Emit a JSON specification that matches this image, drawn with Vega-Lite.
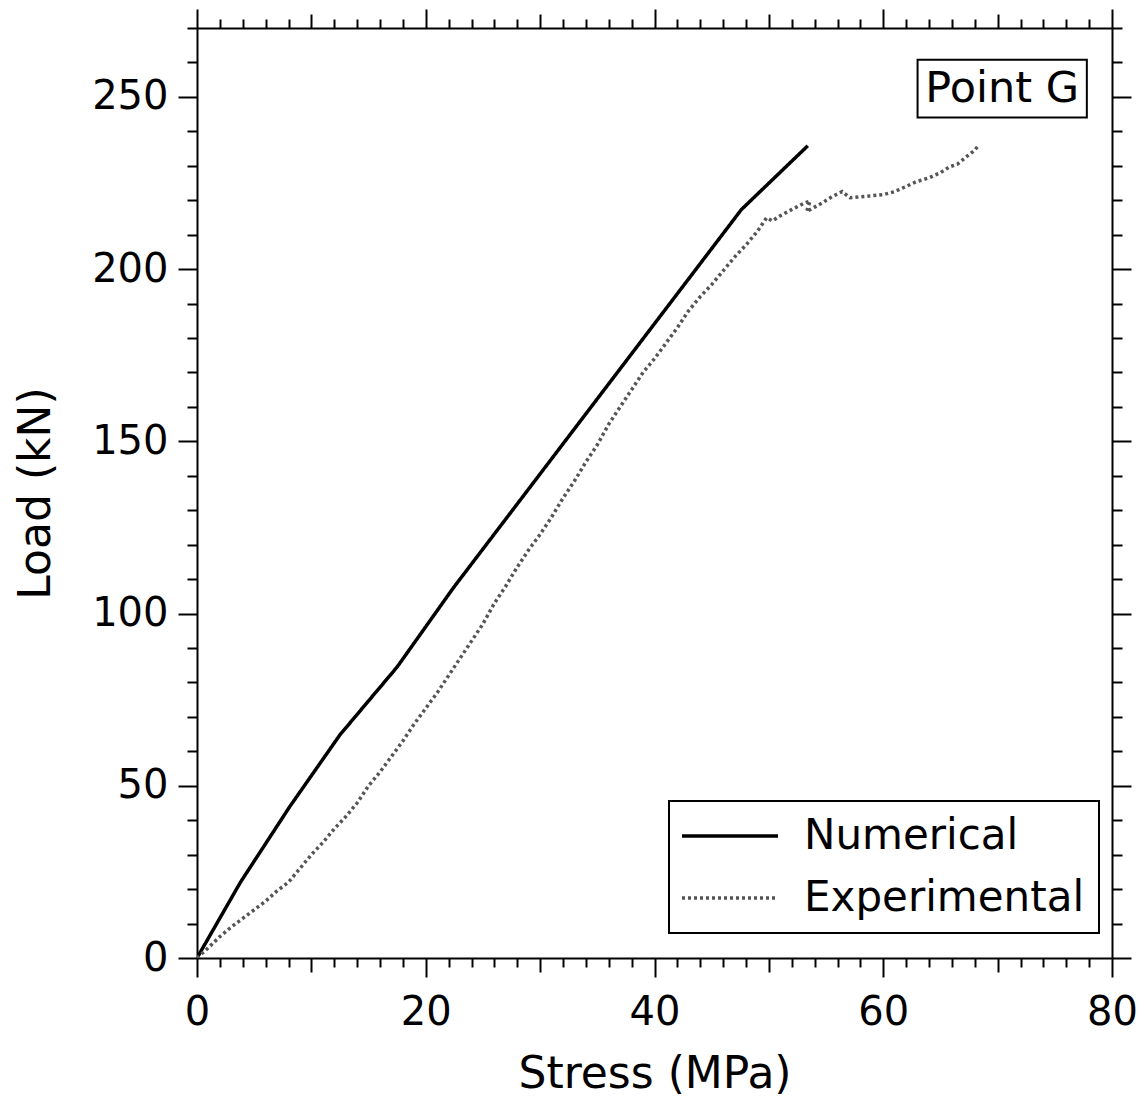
{
  "$schema": "https://vega.github.io/schema/vega-lite/v6.json",
  "width": 915,
  "height": 930,
  "autosize": {"type": "none"},
  "padding": {"left": 197, "top": 28, "right": 35, "bottom": 147},
  "background": "white",
  "config": {
    "view": {"stroke": null},
    "font": "DejaVu Sans",
    "axis": {
      "domainColor": "black",
      "domainWidth": 2,
      "tickColor": "black",
      "tickWidth": 2,
      "grid": false,
      "labelFont": "DejaVu Sans",
      "labelColor": "black",
      "titleFont": "DejaVu Sans",
      "titleColor": "black",
      "titleFontWeight": "normal"
    },
    "legend": {"strokeWidth": 2}
  },
  "datasets": {
    "curves": [
      {"series": "Numerical", "i": 0, "stress": 0, "load": 0},
      {"series": "Numerical", "i": 1, "stress": 3.8, "load": 22},
      {"series": "Numerical", "i": 2, "stress": 8.1, "load": 43.9},
      {"series": "Numerical", "i": 3, "stress": 12.5, "load": 64.8},
      {"series": "Numerical", "i": 4, "stress": 17.5, "load": 84.5},
      {"series": "Numerical", "i": 5, "stress": 22.4, "load": 107.4},
      {"series": "Numerical", "i": 6, "stress": 47.6, "load": 217.3},
      {"series": "Numerical", "i": 7, "stress": 53.4, "load": 235.8},
      {"series": "Experimental", "i": 0, "stress": 0, "load": 0},
      {"series": "Experimental", "i": 1, "stress": 1, "load": 3},
      {"series": "Experimental", "i": 2, "stress": 2, "load": 6.2},
      {"series": "Experimental", "i": 3, "stress": 3, "load": 9},
      {"series": "Experimental", "i": 4, "stress": 4, "load": 11.5},
      {"series": "Experimental", "i": 5, "stress": 5, "load": 14},
      {"series": "Experimental", "i": 6, "stress": 6, "load": 16.5},
      {"series": "Experimental", "i": 7, "stress": 7, "load": 19.5},
      {"series": "Experimental", "i": 8, "stress": 8, "load": 22},
      {"series": "Experimental", "i": 9, "stress": 9, "load": 26},
      {"series": "Experimental", "i": 10, "stress": 10, "load": 30},
      {"series": "Experimental", "i": 11, "stress": 11, "load": 33.5},
      {"series": "Experimental", "i": 12, "stress": 12, "load": 37.5},
      {"series": "Experimental", "i": 13, "stress": 13, "load": 41},
      {"series": "Experimental", "i": 14, "stress": 14, "load": 45},
      {"series": "Experimental", "i": 15, "stress": 15, "load": 50},
      {"series": "Experimental", "i": 16, "stress": 16, "load": 54},
      {"series": "Experimental", "i": 17, "stress": 17, "load": 58.5},
      {"series": "Experimental", "i": 18, "stress": 18, "load": 63},
      {"series": "Experimental", "i": 19, "stress": 19, "load": 68},
      {"series": "Experimental", "i": 20, "stress": 20, "load": 72.5},
      {"series": "Experimental", "i": 21, "stress": 21, "load": 77},
      {"series": "Experimental", "i": 22, "stress": 22, "load": 82},
      {"series": "Experimental", "i": 23, "stress": 23, "load": 87},
      {"series": "Experimental", "i": 24, "stress": 24, "load": 92},
      {"series": "Experimental", "i": 25, "stress": 25, "load": 97},
      {"series": "Experimental", "i": 26, "stress": 26, "load": 103},
      {"series": "Experimental", "i": 27, "stress": 27, "load": 108},
      {"series": "Experimental", "i": 28, "stress": 28, "load": 113.5},
      {"series": "Experimental", "i": 29, "stress": 29, "load": 118.5},
      {"series": "Experimental", "i": 30, "stress": 30, "load": 123},
      {"series": "Experimental", "i": 31, "stress": 31, "load": 128},
      {"series": "Experimental", "i": 32, "stress": 32, "load": 133.5},
      {"series": "Experimental", "i": 33, "stress": 33, "load": 138.5},
      {"series": "Experimental", "i": 34, "stress": 34, "load": 144},
      {"series": "Experimental", "i": 35, "stress": 35, "load": 149},
      {"series": "Experimental", "i": 36, "stress": 36, "load": 155},
      {"series": "Experimental", "i": 37, "stress": 37, "load": 160},
      {"series": "Experimental", "i": 38, "stress": 38, "load": 165},
      {"series": "Experimental", "i": 39, "stress": 39, "load": 170},
      {"series": "Experimental", "i": 40, "stress": 40, "load": 174},
      {"series": "Experimental", "i": 41, "stress": 41, "load": 178.5},
      {"series": "Experimental", "i": 42, "stress": 42, "load": 183},
      {"series": "Experimental", "i": 43, "stress": 43, "load": 188},
      {"series": "Experimental", "i": 44, "stress": 44, "load": 192},
      {"series": "Experimental", "i": 45, "stress": 45, "load": 195.5},
      {"series": "Experimental", "i": 46, "stress": 46, "load": 199.5},
      {"series": "Experimental", "i": 47, "stress": 47, "load": 203.5},
      {"series": "Experimental", "i": 48, "stress": 48, "load": 207},
      {"series": "Experimental", "i": 49, "stress": 49, "load": 211},
      {"series": "Experimental", "i": 50, "stress": 49.8, "load": 214.9},
      {"series": "Experimental", "i": 51, "stress": 50.3, "load": 214},
      {"series": "Experimental", "i": 52, "stress": 51, "load": 215.5},
      {"series": "Experimental", "i": 53, "stress": 52, "load": 217.3},
      {"series": "Experimental", "i": 54, "stress": 53, "load": 219},
      {"series": "Experimental", "i": 55, "stress": 53.6, "load": 219.8},
      {"series": "Experimental", "i": 56, "stress": 53.3, "load": 216.7},
      {"series": "Experimental", "i": 57, "stress": 54, "load": 218},
      {"series": "Experimental", "i": 58, "stress": 54.7, "load": 219.3},
      {"series": "Experimental", "i": 59, "stress": 55.5, "load": 221},
      {"series": "Experimental", "i": 60, "stress": 56.4, "load": 222.5},
      {"series": "Experimental", "i": 61, "stress": 57.1, "load": 220.7},
      {"series": "Experimental", "i": 62, "stress": 58, "load": 221},
      {"series": "Experimental", "i": 63, "stress": 59, "load": 221.3},
      {"series": "Experimental", "i": 64, "stress": 60, "load": 221.6},
      {"series": "Experimental", "i": 65, "stress": 61, "load": 222.5},
      {"series": "Experimental", "i": 66, "stress": 62, "load": 224},
      {"series": "Experimental", "i": 67, "stress": 62.9, "load": 225.4},
      {"series": "Experimental", "i": 68, "stress": 64, "load": 226.5},
      {"series": "Experimental", "i": 69, "stress": 65, "load": 228},
      {"series": "Experimental", "i": 70, "stress": 65.8, "load": 229.7},
      {"series": "Experimental", "i": 71, "stress": 66.5, "load": 230.5},
      {"series": "Experimental", "i": 72, "stress": 67.3, "load": 232.7},
      {"series": "Experimental", "i": 73, "stress": 68, "load": 234.5},
      {"series": "Experimental", "i": 74, "stress": 68.3, "load": 235.8}
    ],
    "label": [
      {"x1": 63.0, "x2": 77.8, "y1": 244.0, "y2": 260.8, "xc": 70.4, "yc": 252.4, "text": "Point G"}
    ]
  },
  "layer": [
    {
      "data": {"name": "curves"},
      "mark": {"type": "line", "clip": true},
      "encoding": {
        "x": {
          "field": "stress", "type": "quantitative",
          "scale": {"domain": [0, 80], "nice": false, "zero": false},
          "axis": {
            "orient": "bottom",
            "title": "Stress (MPa)",
            "titleFontSize": 44,
            "titlePadding": 20,
            "values": [0,2,4,6,8,10,12,14,16,18,20,22,24,26,28,30,32,34,36,38,40,42,44,46,48,50,52,54,56,58,60,62,64,66,68,70,72,74,76,78,80],
            "labelExpr": "datum.value % 20 === 0 ? datum.label : ''",
            "labelFontSize": 40,
            "labelPadding": 15,
            "labelFlush": false,
            "labelOverlap": false,
            "tickSize": {"condition": [{"test": "datum.value % 20 === 0", "value": 19}, {"test": "datum.value % 10 === 0", "value": 14}], "value": 9}
          }
        },
        "y": {
          "field": "load", "type": "quantitative",
          "scale": {"domain": [0, 270], "nice": false, "zero": false},
          "axis": {
            "orient": "left",
            "title": "Load (kN)",
            "titleFontSize": 44,
            "titlePadding": 33,
            "values": [0,10,20,30,40,50,60,70,80,90,100,110,120,130,140,150,160,170,180,190,200,210,220,230,240,250,260,270],
            "labelExpr": "datum.value % 50 === 0 ? datum.label : ''",
            "labelFontSize": 40,
            "labelPadding": 10,
            "labelFlush": false,
            "labelOverlap": false,
            "tickSize": {"condition": {"test": "datum.value % 50 === 0", "value": 19}, "value": 10}
          }
        },
        "order": {"field": "i", "type": "quantitative"},
        "color": {
          "field": "series", "type": "nominal",
          "scale": {"domain": ["Numerical", "Experimental"], "range": ["black", "#555555"]},
          "legend": {
            "title": null,
            "orient": "none",
            "legendX": 472,
            "legendY": 773,
            "padding": 14,
            "strokeColor": "black",
            "fillColor": "white",
            "symbolType": "M-1.375,0H4.625",
            "symbolSize": 1024,
            "symbolStrokeWidth": 3.5,
            "labelFont": "DejaVu Sans",
            "labelFontSize": 42,
            "labelColor": "black",
            "labelLimit": 500,
            "labelOffset": 79,
            "rowPadding": 20
          }
        },
        "strokeDash": {
          "field": "series", "type": "nominal",
          "scale": {"domain": ["Numerical", "Experimental"], "range": [[1, 0], [3, 3]]},
          "legend": {
            "title": null,
            "orient": "none",
            "legendX": 472,
            "legendY": 773,
            "padding": 14,
            "strokeColor": "black",
            "fillColor": "white",
            "symbolType": "M-1.375,0H4.625",
            "symbolSize": 1024,
            "symbolStrokeWidth": 3.5,
            "labelFont": "DejaVu Sans",
            "labelFontSize": 42,
            "labelColor": "black",
            "labelLimit": 500,
            "labelOffset": 79,
            "rowPadding": 20
          }
        },
        "strokeWidth": {"value": 3.5}
      }
    },
    {
      "data": {"name": "label"},
      "mark": {"type": "rect", "fill": "white", "stroke": "black", "strokeWidth": 2},
      "encoding": {
        "x": {
          "field": "x1", "type": "quantitative",
          "axis": {
            "orient": "top",
            "title": null,
            "values": [0,2,4,6,8,10,12,14,16,18,20,22,24,26,28,30,32,34,36,38,40,42,44,46,48,50,52,54,56,58,60,62,64,66,68,70,72,74,76,78,80],
            "labels": false,
            "tickSize": {"condition": [{"test": "datum.value % 20 === 0", "value": 19}, {"test": "datum.value % 10 === 0", "value": 14}], "value": 9}
          }
        },
        "x2": {"field": "x2"},
        "y": {
          "field": "y1", "type": "quantitative",
          "axis": {
            "orient": "right",
            "title": null,
            "values": [0,10,20,30,40,50,60,70,80,90,100,110,120,130,140,150,160,170,180,190,200,210,220,230,240,250,260,270],
            "labels": false,
            "tickSize": {"condition": {"test": "datum.value % 50 === 0", "value": 19}, "value": 10}
          }
        },
        "y2": {"field": "y2"}
      }
    },
    {
      "data": {"name": "label"},
      "mark": {"type": "text", "font": "DejaVu Sans", "fontSize": 43, "color": "black", "align": "center", "baseline": "middle"},
      "encoding": {
        "x": {"field": "xc", "type": "quantitative", "axis": null},
        "y": {"field": "yc", "type": "quantitative", "axis": null},
        "text": {"field": "text"}
      }
    }
  ],
  "resolve": {"axis": {"x": "independent", "y": "independent"}}
}
